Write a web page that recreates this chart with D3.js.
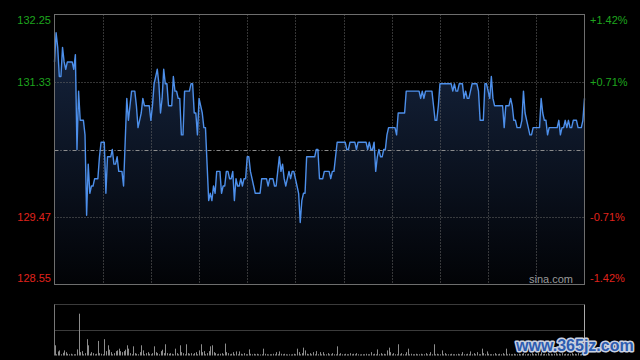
<!DOCTYPE html>
<html><head><meta charset="utf-8">
<script src="https://cdn.jsdelivr.net/npm/d3@7"></script>
<style>html,body{margin:0;padding:0;background:#000;}svg{display:block;}</style>
</head><body>
<svg id="c" width="640" height="360"></svg>
<script>
// ---- DATA ----
const prevClose = 130.40;
const priceTicks = [132.25, 131.33, 130.40, 129.47, 128.55];
const priceLabels = ["132.25", "131.33", "", "129.47", "128.55"];
const pctLabels = ["+1.42%", "+0.71%", "", "-0.71%", "-1.42%"];
const gridMinutes = [30, 60, 90, 120, 150, 180, 210, 240, 270, 300];
const prices = [
131.6,132.0,131.8,131.4,131.4,131.8,131.6,131.5,131.6,131.6,
131.6,131.6,131.5,131.7,130.4,131.2,130.8,130.8,130.8,130.6,
129.5,130.2,129.8,129.9,129.9,130.0,130.0,130.0,130.3,130.5,
130.5,130.5,129.8,130.3,130.3,130.3,130.4,130.2,130.2,130.3,
130.1,130.1,130.1,129.9,130.5,131.1,130.8,131.0,131.2,131.2,
131.2,131.0,130.7,130.8,130.9,131.1,131.0,131.0,131.0,131.0,
130.8,131.0,131.3,131.4,131.5,131.3,130.9,131.1,131.5,131.3,
131.3,131.0,131.0,131.0,131.4,131.2,131.2,131.1,131.1,130.6,
130.6,131.2,131.2,131.2,131.2,131.3,131.3,130.9,130.9,130.6,
131.1,131.0,130.9,130.7,130.7,130.2,129.7,129.8,129.7,129.9,
129.8,130.1,130.1,130.1,129.8,129.9,129.9,130.1,130.1,130.0,
130.0,130.1,129.7,130.0,129.9,129.9,130.0,129.9,130.0,130.0,
130.3,130.3,130.1,130.0,129.9,129.8,129.8,129.8,129.8,130.0,
130.0,130.0,130.0,129.9,130.0,130.0,130.0,129.9,129.9,130.1,
130.3,130.1,130.2,130.0,129.9,130.0,130.1,130.0,130.1,130.1,
130.0,129.9,129.8,129.4,129.7,129.8,129.8,130.3,130.3,130.3,
130.3,130.3,130.3,130.4,130.4,130.0,130.0,130.0,130.1,130.1,
130.1,130.1,130.0,130.1,130.1,130.3,130.5,130.5,130.5,130.5,
130.5,130.5,130.4,130.4,130.5,130.5,130.5,130.5,130.4,130.5,
130.5,130.5,130.5,130.5,130.5,130.4,130.5,130.4,130.4,130.5,
130.1,130.3,130.4,130.3,130.3,130.4,130.4,130.6,130.7,130.7,
130.7,130.7,130.7,130.6,130.9,130.9,130.9,130.9,130.9,131.2,
131.2,131.2,131.2,131.2,131.2,131.2,131.2,131.2,131.1,131.2,
131.1,131.2,131.2,131.2,131.2,131.2,131.0,130.8,130.8,131.0,
131.3,131.3,131.3,131.3,131.3,131.3,131.3,131.3,131.2,131.3,
131.2,131.2,131.3,131.3,131.3,131.1,131.2,131.1,131.1,131.2,
131.3,131.3,131.3,131.3,131.2,130.8,130.8,130.8,131.3,131.3,
131.2,131.1,131.4,131.1,131.0,131.0,131.0,131.0,131.0,131.0,
130.7,131.0,131.0,131.0,131.1,131.0,130.8,130.8,130.7,130.7,
130.7,130.8,131.2,130.9,130.8,130.7,130.6,130.6,130.7,130.7,
130.7,130.7,130.7,131.1,130.9,130.8,130.8,130.6,130.7,130.7,
130.7,130.7,130.7,130.7,130.8,130.6,130.7,130.7,130.8,130.7,
130.8,130.7,130.7,130.8,130.8,130.8,130.7,130.7,130.7,130.8,131.1
];
const volumes = [
100,12,40,50,12,27,50,33,17,12,
17,10,12,12,60,410,33,43,12,23,
160,100,17,33,23,12,17,143,23,17,
12,160,43,100,57,33,12,23,43,50,
67,43,33,43,57,100,67,23,12,90,
23,17,12,33,100,50,12,23,33,17,
12,23,90,33,23,12,43,57,23,110,
23,17,23,17,12,67,23,12,100,33,
23,12,110,23,17,23,12,23,33,12,
50,110,33,43,12,23,43,90,100,33,
23,12,17,17,23,12,117,33,23,12,
17,33,12,40,12,40,17,12,23,12,
12,60,17,12,17,12,17,12,10,12,
67,17,12,10,12,12,17,12,33,12,
40,17,12,17,12,10,12,10,12,17,
12,67,33,12,23,77,50,17,12,23,
12,33,12,43,12,33,12,33,12,12,
23,12,12,23,12,12,90,12,23,12,
12,17,12,12,23,12,17,12,23,12,
10,12,12,12,17,12,12,33,12,17,
12,60,12,23,12,17,12,50,77,33,
12,23,12,12,110,12,23,12,12,33,
67,12,17,12,12,17,12,12,17,12,
12,23,12,12,33,12,110,12,17,12,
12,50,12,23,12,12,12,17,12,12,
12,17,12,12,33,12,12,17,12,40,
12,23,12,33,12,12,67,23,12,40,
17,12,12,12,23,12,12,17,12,23,
12,67,12,17,12,12,17,12,12,17,
12,17,23,12,12,17,12,23,12,17,
12,23,12,33,12,17,12,23,12,17,
12,17,23,12,17,12,23,12,17,12,
17,12,23,12,17,12,23,12,17,23,40
];
const volMax = 500;

// ---- CHART ----
const svg = d3.select("#c");
const L = 54.5, R = 584.5, T = 14.5, B = 284.5;
const VT = 304.5, VB = 355.5;
const x = d3.scaleLinear().domain([0, 330]).range([L, R]);
const y = d3.scaleLinear().domain([128.55, 132.25]).range([B, T]);
const yv = d3.scaleLinear().domain([0, volMax]).range([VB, VT]);

const green = "#1ea51e", red = "#e0231c", gridC = "#6a6a6a";

const defs = svg.append("defs");
const g = defs.append("linearGradient").attr("id","fillg").attr("gradientUnits","userSpaceOnUse")
  .attr("x1",0).attr("x2",0).attr("y1",T).attr("y2",B);
g.append("stop").attr("offset","0%").attr("stop-color","#172743");
g.append("stop").attr("offset","100%").attr("stop-color","#020306");

// area + line
const area = d3.area().x((d,i)=>x(i)).y0(B).y1(d=>y(d));
svg.append("path").datum(prices).attr("d", area).attr("fill","url(#fillg)");

// grid
svg.selectAll(".vg").data(gridMinutes).enter().append("line")
  .attr("x1",d=>Math.round(x(d))+0.5).attr("x2",d=>Math.round(x(d))+0.5)
  .attr("y1",T).attr("y2",B).attr("stroke",gridC).attr("stroke-dasharray","1,2");
[priceTicks[1], priceTicks[3]].forEach(p=>{
  svg.append("line").attr("x1",L).attr("x2",R).attr("y1",Math.round(y(p))+0.5).attr("y2",Math.round(y(p))+0.5)
    .attr("stroke",gridC).attr("stroke-dasharray","1,2");
});
svg.append("line").attr("x1",L).attr("x2",R).attr("y1",Math.round(y(prevClose))+0.5).attr("y2",Math.round(y(prevClose))+0.5)
  .attr("stroke","#8c8c8c").attr("stroke-dasharray","4,2,1,2");

const line = d3.line().x((d,i)=>x(i)).y(d=>y(d));
svg.append("path").datum(prices).attr("d", line).attr("fill","none")
  .attr("stroke","#4d8fea").attr("stroke-width",1.4).attr("stroke-linejoin","round");

// frame
svg.append("rect").attr("x",L).attr("y",T).attr("width",R-L).attr("height",B-T)
  .attr("fill","none").attr("stroke","#6e6e6e");

// labels
const labFont = "Liberation Sans, Arial, sans-serif";
priceTicks.forEach((p,i)=>{
  if(!priceLabels[i]) return;
  let yy = y(p);
  if(i===0) yy += 6; else if(i===priceTicks.length-1) yy -= 6.5;
  const col = p > prevClose ? green : red;
  svg.append("text").attr("x",51).attr("y",yy).attr("dy","0.36em").attr("text-anchor","end")
    .attr("font-family",labFont).attr("font-size",11).attr("fill",col).text(priceLabels[i]);
  svg.append("text").attr("x",590).attr("y",yy).attr("dy","0.36em").attr("text-anchor","start")
    .attr("font-family",labFont).attr("font-size",11).attr("fill",col).text(pctLabels[i]);
});
svg.append("text").attr("x",573).attr("y",279).attr("dy","0.36em").attr("text-anchor","end")
  .attr("font-family",labFont).attr("font-size",11).attr("fill","#9a9a9a").text("sina.com");

// volume panel
svg.append("line").attr("x1",L).attr("x2",R).attr("y1",VT).attr("y2",VT).attr("stroke","#777").attr("stroke-dasharray","1,1");
svg.append("line").attr("x1",L).attr("x2",R).attr("y1",Math.round(yv(volMax/2))+0.5).attr("y2",Math.round(yv(volMax/2))+0.5).attr("stroke","#777").attr("stroke-dasharray","1,1");
svg.selectAll(".vb").data(volumes).enter().append("rect")
  .attr("x",(d,i)=>Math.round(x(i)))
  .attr("y",d=>yv(d)).attr("width",1).attr("height",d=>VB-yv(d)).attr("fill","#8c8c8c");
svg.append("line").attr("x1",L).attr("x2",L).attr("y1",VT).attr("y2",VB).attr("stroke","#777");
svg.append("line").attr("x1",R).attr("x2",R).attr("y1",VT).attr("y2",VB).attr("stroke","#aaa");

// watermark
svg.append("text").attr("x",516).attr("y",351).attr("font-family",labFont).attr("font-weight","bold")
  .attr("font-size",16).attr("fill","#2d5cb0").attr("stroke","#c9d1e0").attr("stroke-width",3)
  .attr("paint-order","stroke").attr("stroke-linejoin","round").text("www.365jz.com");
</script>
</body></html>
